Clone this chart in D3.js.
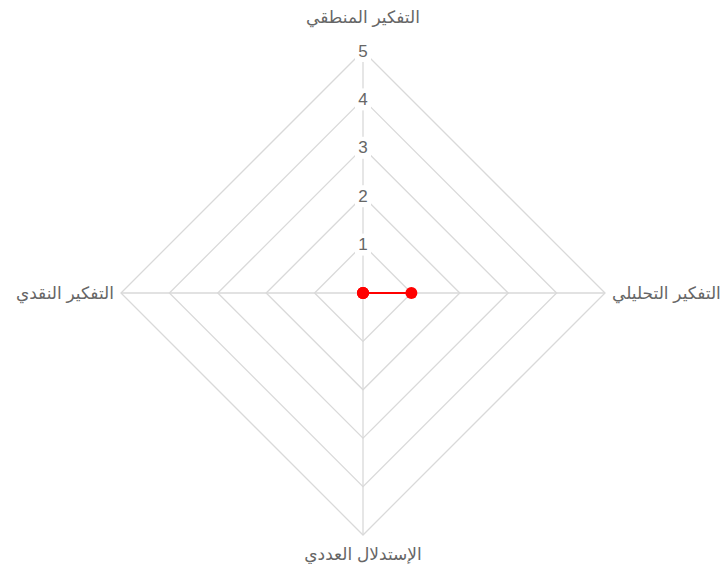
<!DOCTYPE html>
<html>
<head>
<meta charset="utf-8">
<script src="https://cdn.jsdelivr.net/npm/d3@7"></script>
<style>
  body { margin: 0; background: #fff; }
  text { font-family: "Liberation Sans", "DejaVu Sans", sans-serif; }
</style>
</head>
<body>
<div id="chart"></div>
<script>
// chart data
let labels = ['التفكير المنطقي', 'التفكير التحليلي', 'الإستدلال العددي', 'التفكير النقدي']
let values = [0, 1, 0, 0]
let ticks = [1, 2, 3, 4, 5]

let width = 725
let height = 564
let cx = 363
let cy = 293
let radius = 242

let svg = d3.select('#chart').append('svg')
  .attr('width', width)
  .attr('height', height)

let r = d3.scaleLinear().domain([0, 5]).range([0, radius])
let angle = d3.scaleLinear().domain([0, labels.length]).range([0, 2 * Math.PI])

function pt(i, v) {
  let a = angle(i) - Math.PI / 2
  return [cx + r(v) * Math.cos(a), cy + r(v) * Math.sin(a)]
}

let g = svg.append('g')

// grid polygons
ticks.forEach(function(t) {
  let pts = labels.map((d, i) => pt(i, t))
  g.append('polygon')
    .attr('points', pts.map(p => p.join(',')).join(' '))
    .attr('fill', 'none')
    .attr('stroke', '#d9d9d9')
    .attr('stroke-width', 1.3)
})

// angle lines
labels.forEach(function(d, i) {
  let p = pt(i, 5)
  g.append('line')
    .attr('x1', cx).attr('y1', cy)
    .attr('x2', p[0]).attr('y2', p[1])
    .attr('stroke', '#d9d9d9')
    .attr('stroke-width', 1.3)
})

// tick labels with backdrop
ticks.forEach(function(t) {
  let y = cy - r(t)
  g.append('rect')
    .attr('x', cx - 8)
    .attr('y', y - 11)
    .attr('width', 16)
    .attr('height', 22)
    .attr('fill', '#fff')
  g.append('text')
    .attr('x', cx)
    .attr('y', y)
    .attr('text-anchor', 'middle')
    .attr('dominant-baseline', 'central')
    .attr('fill', '#666')
    .style('font-size', '17px')
    .text(t)
})

// point labels (rtl: 'end' is the left edge, 'start' the right edge)
let anchors = ['middle', 'end', 'middle', 'start']
labels.forEach(function(d, i) {
  let p = pt(i, 5)
  let a = angle(i) - Math.PI / 2
  let x = p[0] + Math.cos(a) * 7
  let y = p[1] + Math.sin(a) * 7
  if (i == 0) y = p[1] - 34
  if (i == 2) y = p[1] + 19
  g.append('text')
    .attr('x', x)
    .attr('y', y)
    .attr('direction', 'rtl')
    .attr('text-anchor', anchors[i])
    .attr('dominant-baseline', 'central')
    .attr('fill', '#666')
    .style('font-size', '17px')
    .text(d)
})

// data line
let line = d3.line().curve(d3.curveLinearClosed)
g.append('path')
  .attr('d', line(values.map((v, i) => pt(i, v))))
  .attr('fill', 'none')
  .attr('stroke', '#ff0000')
  .attr('stroke-width', 2)

g.selectAll('.dot').data(values).enter()
  .append('circle')
  .attr('class', 'dot')
  .attr('cx', (d, i) => pt(i, d)[0])
  .attr('cy', (d, i) => pt(i, d)[1])
  .attr('r', 6)
  .attr('fill', '#ff0000')
</script>
</body>
</html>
